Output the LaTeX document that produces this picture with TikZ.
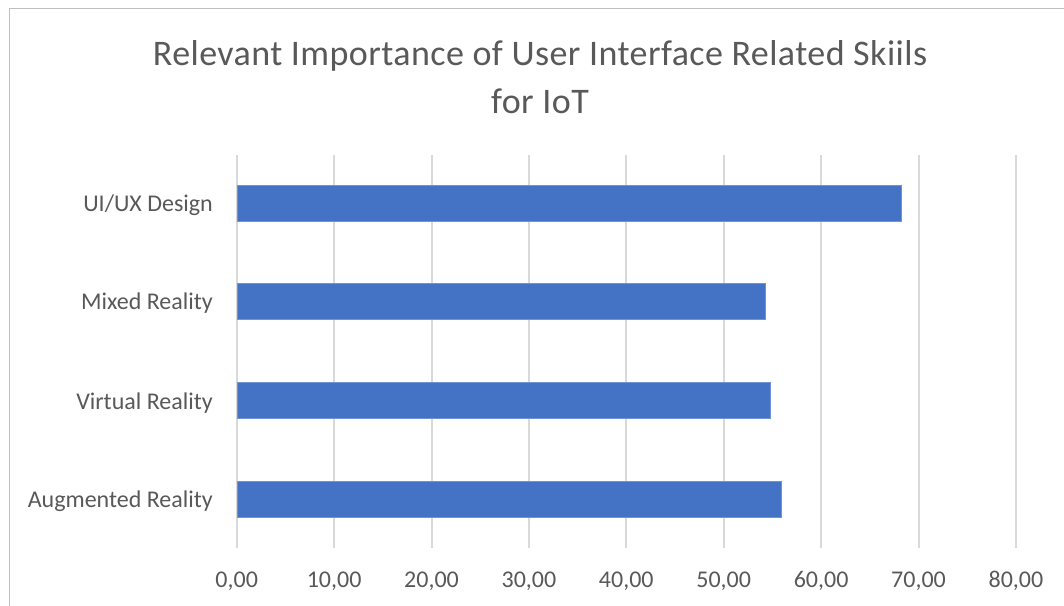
\documentclass[tikz,border=0pt]{standalone}
\usepackage{fontspec}
\setmainfont{Carlito}
\newfontfamily\titlefont[LetterSpace=1.2]{Carlito}
\definecolor{txt}{HTML}{595959}
\definecolor{grid}{HTML}{D9D9D9}
\definecolor{frame}{HTML}{BFBFBF}
\definecolor{bar}{HTML}{4472C4}
\definecolor{baredge}{HTML}{6F93D3}
\begin{document}
\begin{tikzpicture}[x=1pt,y=-1pt,
  gridline/.style={draw=grid,line width=2pt},
  barbox/.style={fill=bar,draw=baredge,line width=0.8pt},
  catlabel/.style={anchor=base east,inner sep=0pt,text=txt,font=\fontsize{24}{29}\selectfont},
  ticklabel/.style={anchor=base,inner sep=0pt,text=txt,font=\fontsize{24}{29}\selectfont},
  titletext/.style={anchor=base,inner sep=0pt,text=txt,font=\titlefont\fontsize{36}{43}\selectfont}]
\useasboundingbox (0,0) rectangle (1064,605);
\fill[white] (0,0) rectangle (1064,605);
\draw[frame,line width=1.5pt] (1070,8.5) -- (9.5,8.5) -- (9.5,612);
% title
\node[titletext] (title1) at (540,65.5) {Relevant Importance of User Interface Related Skiils};
\node[titletext] (title2) at (540,113) {for IoT};
% gridlines and tick labels
\foreach \k/\lab in {0/{0,00},1/{10,00},2/{20,00},3/{30,00},4/{40,00},5/{50,00},6/{60,00},7/{70,00},8/{80,00}}{
  \draw[gridline] ({236.7+97.4*\k},155) -- ({236.7+97.4*\k},548);
  \node[ticklabel] (tick\k) at ({236.7+97.4*\k},587) {\lab};
}
% bars
\foreach \name/\c/\v/\lab in {uiux/203.5/68.2/{UI/UX Design},mixed/301.7/54.24/{Mixed Reality},virtual/400.8/54.8/{Virtual Reality},augmented/499.3/55.9/{Augmented Reality}}{
  \draw[barbox] (237.7,{\c-18}) rectangle ({236.7+9.74*\v},{\c+18});
  \node[catlabel] (lab\name) at (213,{\c+8.2}) {\lab};
}
\end{tikzpicture}
\end{document}
